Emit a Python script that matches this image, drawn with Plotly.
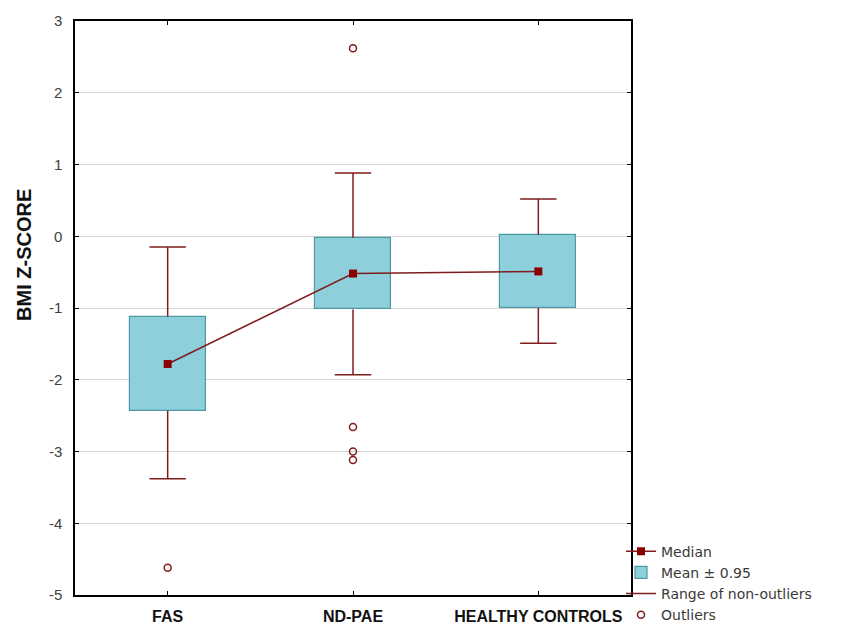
import plotly.graph_objects as go

#######################################
# DATA
groups      = ['FAS', 'ND-PAE', 'HEALTHY CONTROLS']
median      = [-1.78, -0.52, -0.49]
box_low     = [-2.43, -1.02, -1.00]
box_high    = [-1.12, -0.02, 0.02]
whisk_low   = [-3.38, -1.93, -1.49]
whisk_high  = [-0.15, 0.88, 0.52]
out_group   = ['FAS', 'ND-PAE', 'ND-PAE', 'ND-PAE', 'ND-PAE']
out_value   = [-4.62, 2.62, -2.66, -3.00, -3.12]
y_ticks     = [-5, -4, -3, -2, -1, 0, 1, 2, 3]
y_labels    = ['-5', '-4', '-3', '-2', '-1', '0', '1', '2', '3']
#######################################

dark_red  = '#7f1d1d'
box_fill  = '#8ecfdc'
box_line  = '#4f98a6'

# whisker segments, split with None
wx, wy = [], []
for g, lo, q1, q3, hi in zip(groups, whisk_low, box_low, box_high, whisk_high):
    wx += [g, g, None, g, g, None]
    wy += [q3, hi, None, q1, lo, None]

fig = go.Figure()

fig.add_trace(go.Bar(
    x = groups, y = [h - l for h, l in zip(box_high, box_low)], base = box_low,
    width = 0.41, name = 'Mean \u00b1 0.95',
    marker = dict(color = box_fill, line = dict(color = box_line, width = 1.2)),
    legendrank = 2
))
fig.add_trace(go.Scatter(
    x = wx, y = wy, mode = 'lines', name = 'Range of non-outliers',
    line = dict(color = dark_red, width = 1.5), legendrank = 3
))
# whisker caps (line-ew is drawn 1.4x its size)
fig.add_trace(go.Scatter(
    x = groups + groups, y = whisk_high + whisk_low, mode = 'markers',
    marker = dict(symbol = 'line-ew', size = 26, line = dict(color = dark_red, width = 1.5)),
    showlegend = False, hoverinfo = 'skip'
))
fig.add_trace(go.Scatter(
    x = groups, y = median, mode = 'lines+markers', name = 'Median',
    line = dict(color = dark_red, width = 1.5),
    marker = dict(symbol = 'square', size = 8, color = '#8b0000'),
    legendrank = 1
))
fig.add_trace(go.Scatter(
    x = out_group, y = out_value, mode = 'markers', name = 'Outliers',
    marker = dict(symbol = 'circle-open', size = 7, color = dark_red, line = dict(width = 1.5)),
    legendrank = 4
))

fig.update_layout(
    width = 851,
    height = 644,
    margin = dict(l = 67, r = 228, t = 13, b = 57, autoexpand = False),
    plot_bgcolor = 'white',
    paper_bgcolor = 'white',
    font = dict(family = 'Arial, Liberation Sans', color = '#333333', size = 15),
    showlegend = True,
    legend = dict(
        x = 0.982, y = -0.062, xanchor = 'left', yanchor = 'bottom',
        font = dict(family = 'DejaVu Sans', size = 14, color = '#3a3a3a'),
        bgcolor = 'rgba(0,0,0,0)', tracegroupgap = 0, itemwidth = 30
    ),
    bargap = 0
)
fig.update_xaxes(
    range = [-0.5, 2.5], automargin = False,
    showline = True, linecolor = 'black', linewidth = 1.5, mirror = 'ticks',
    ticks = 'inside', ticklen = 4, tickcolor = 'black',
    showgrid = False, zeroline = False,
    tickfont = dict(family = 'Arial, Liberation Sans', size = 16, color = '#111111', weight = 'bold'),
    ticklabelstandoff = 6
)
fig.update_yaxes(
    range = [-5, 3], tickvals = y_ticks, ticktext = y_labels, automargin = False,
    showline = True, linecolor = 'black', linewidth = 1.5, mirror = 'ticks',
    ticks = 'inside', ticklen = 4, tickcolor = 'black',
    gridcolor = '#d6d6d6', gridwidth = 1.2, zeroline = False,
    tickfont = dict(size = 15, color = '#404040'),
    ticklabelstandoff = 8
)

# the axis title sits above the middle of the axis in the original
fig.add_annotation(
    text = '<b>BMI Z-SCORE</b>', textangle = -90,
    xref = 'paper', yref = 'paper', x = -0.093, y = 0.593,
    xanchor = 'center', yanchor = 'middle', showarrow = False,
    font = dict(family = 'Arial, Liberation Sans', size = 20, color = '#111111')
)

fig.write_html("out.html")
